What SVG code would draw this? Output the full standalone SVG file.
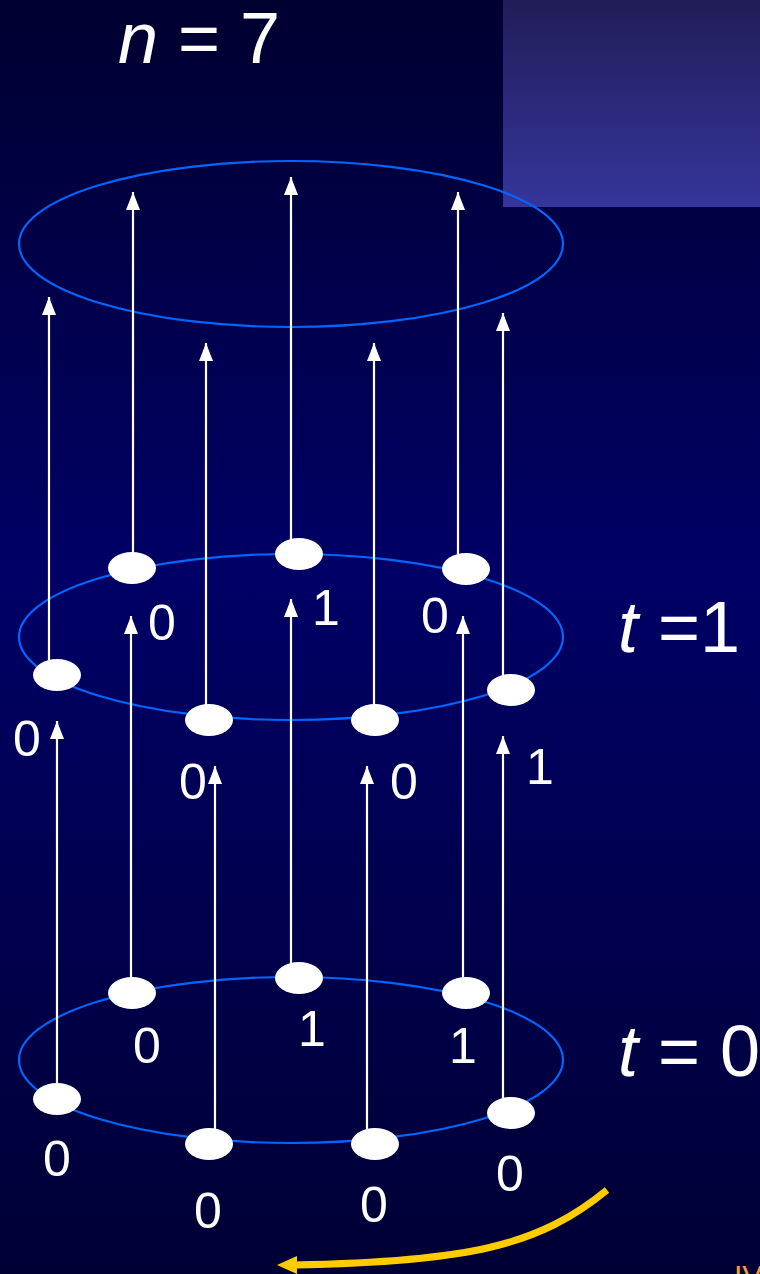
<svg xmlns="http://www.w3.org/2000/svg" width="760" height="1274" viewBox="0 0 760 1274">
<defs>
<linearGradient id="bg" x1="0" y1="0" x2="0" y2="1">
<stop offset="0" stop-color="#000030"/>
<stop offset="0.45" stop-color="#000066"/>
<stop offset="1" stop-color="#000035"/>
</linearGradient>
<linearGradient id="box" x1="0" y1="0" x2="0" y2="1">
<stop offset="0" stop-color="#211d58"/>
<stop offset="1" stop-color="#35359c"/>
</linearGradient>
<marker id="ah" markerUnits="userSpaceOnUse" markerWidth="18" markerHeight="14" refX="18" refY="7" orient="auto">
<path d="M0,0 L18,7 L0,14 z" fill="#ffffff"/>
</marker>
</defs>
<style>
.ring{fill:none;stroke:#0066ff;stroke-width:2.2}
.node{fill:#ffffff}
.arr{stroke:#ffffff;stroke-width:2.2;fill:none;marker-end:url(#ah)}
.lbl{font-family:"Liberation Sans",Arial,sans-serif;font-size:50px;fill:#ffffff;text-anchor:middle}
.big{font-family:"Liberation Sans",Arial,sans-serif;font-size:72px;fill:#ffffff}
</style>
<rect x="0" y="0" width="760" height="1274" fill="url(#bg)"/>
<rect x="503" y="0" width="257" height="207" fill="url(#box)"/>

<g id="rings">
<ellipse id="ring-top" class="ring" cx="291" cy="244" rx="272" ry="83"/>
<ellipse id="ring-t1" class="ring" cx="291" cy="637" rx="272" ry="83"/>
<ellipse id="ring-t0" class="ring" cx="291" cy="1060" rx="272" ry="83"/>
</g>

<g id="connectors">
<line class="arr" x1="49" y1="660" x2="49" y2="297"/>
<line class="arr" x1="133" y1="553" x2="133" y2="192"/>
<line class="arr" x1="206" y1="705" x2="206" y2="343"/>
<line class="arr" x1="291" y1="539" x2="291" y2="177"/>
<line class="arr" x1="374" y1="705" x2="374" y2="343"/>
<line class="arr" x1="458" y1="554" x2="458" y2="192"/>
<line class="arr" x1="503" y1="675" x2="503" y2="313"/>

<line class="arr" x1="131" y1="978" x2="131" y2="616"/>
<line class="arr" x1="291" y1="963" x2="291" y2="599"/>
<line class="arr" x1="463" y1="978" x2="463" y2="616"/>
<line class="arr" x1="57" y1="1084" x2="57" y2="721"/>
<line class="arr" x1="215" y1="1129" x2="215" y2="766"/>
<line class="arr" x1="367" y1="1129" x2="367" y2="766"/>
<line class="arr" x1="503" y1="1098" x2="503" y2="736"/>

<g id="yellow-arrow">
<path d="M607,1190 C540,1245 470,1262 294,1265" fill="none" stroke="#ffcc00" stroke-width="7"/>
<polygon points="277,1265 297,1256 297,1274" fill="#ffcc00"/>
</g>
</g>

<g id="t1-nodes">
<g id="n1a"><ellipse class="node" cx="132" cy="568" rx="24" ry="16"/></g>
<g id="n1b"><ellipse class="node" cx="299" cy="554" rx="24" ry="16"/></g>
<g id="n1c"><ellipse class="node" cx="466" cy="569" rx="24" ry="16"/></g>
<g id="n1d"><ellipse class="node" cx="57" cy="675" rx="24" ry="16"/></g>
<g id="n1e"><ellipse class="node" cx="209" cy="720" rx="24" ry="16"/></g>
<g id="n1f"><ellipse class="node" cx="375" cy="720" rx="24" ry="16"/></g>
<g id="n1g"><ellipse class="node" cx="511" cy="690" rx="24" ry="16"/></g>
</g>

<g id="t0-nodes">
<g id="n0a"><ellipse class="node" cx="132" cy="993" rx="24" ry="16"/></g>
<g id="n0b"><ellipse class="node" cx="299" cy="978" rx="24" ry="16"/></g>
<g id="n0c"><ellipse class="node" cx="466" cy="993" rx="24" ry="16"/></g>
<g id="n0d"><ellipse class="node" cx="57" cy="1099" rx="24" ry="16"/></g>
<g id="n0e"><ellipse class="node" cx="209" cy="1144" rx="24" ry="16"/></g>
<g id="n0f"><ellipse class="node" cx="375" cy="1144" rx="24" ry="16"/></g>
<g id="n0g"><ellipse class="node" cx="511" cy="1113" rx="24" ry="16"/></g>
</g>

<g id="labels">
<text class="lbl" x="162" y="640">0</text>
<text class="lbl" x="326" y="625">1</text>
<text class="lbl" x="435" y="633">0</text>
<text class="lbl" x="27" y="756">0</text>
<text class="lbl" x="193" y="799">0</text>
<text class="lbl" x="404" y="799">0</text>
<text class="lbl" x="540" y="784">1</text>

<text class="lbl" x="147" y="1063">0</text>
<text class="lbl" x="312" y="1046">1</text>
<text class="lbl" x="463" y="1063">1</text>
<text class="lbl" x="57" y="1176">0</text>
<text class="lbl" x="208" y="1228">0</text>
<text class="lbl" x="374" y="1222">0</text>
<text class="lbl" x="510" y="1191">0</text>
</g>

<g id="titles">
<text class="big" x="118" y="63"><tspan font-style="italic">n</tspan> = 7</text>
<text class="big" x="618" y="652"><tspan font-style="italic">t</tspan> =1</text>
<text class="big" x="618" y="1076"><tspan font-style="italic">t</tspan> = 0</text>
<text x="734" y="1286" font-family="'Liberation Sans',Arial,sans-serif" font-size="30" fill="#ff9933">IV</text>
</g>
</svg>
